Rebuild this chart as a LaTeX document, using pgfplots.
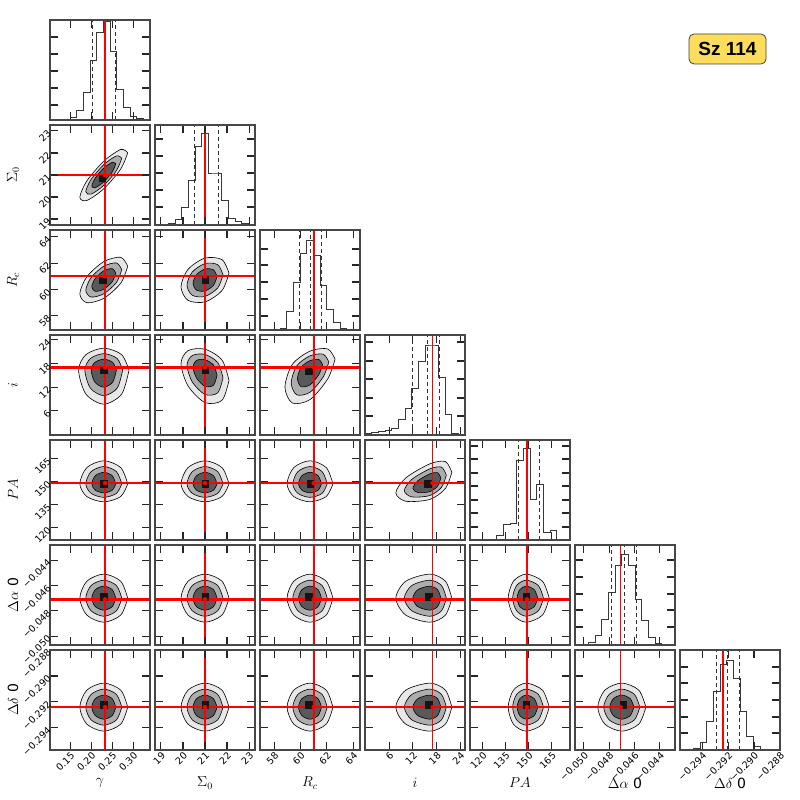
\documentclass[border=0pt]{standalone}
\usepackage{pgfplots}
\pgfplotsset{compat=1.18}
\usepackage{fontspec}
\setmainfont{DejaVu Sans}
\newfontfamily\boxfont{Liberation Sans}
\definecolor{boxyellow}{RGB}{253,221,92}
\definecolor{truthred}{RGB}{255,0,0}

\newcommand{\cont}[3]{%
\addplot[fill=black!9, draw=black, line width=0.6pt, smooth] coordinates {#1};
\addplot[fill=black!32, draw=black, line width=0.6pt, smooth] coordinates {#2};
\addplot[fill=black!65, draw=black, line width=0.6pt, smooth] coordinates {#3};}
\newcommand{\core}[2]{\addplot[only marks, mark=square*, mark size=3.3pt, mark options={draw=black!92, fill=black!92}] coordinates {(#1,#2)};}
% truth line as a thin filled band: x from #1 to #2, y from #3 to #4
\newcommand{\tv}[4]{\addplot[fill=truthred, draw=none] coordinates {(#1,#3)(#2,#3)(#2,#4)(#1,#4)};}
\newcommand{\tdot}[2]{\addplot[only marks, mark=*, mark size=2pt, mark options={draw=truthred, fill=truthred}] coordinates {(#1,#2)};}
\newcommand{\hq}[3]{%
\addplot[draw=black!80, line width=0.8pt, dash pattern=on 4pt off 3pt] coordinates {(#1,0) (#1,1)};
\addplot[draw=black!80, line width=0.8pt, dash pattern=on 4pt off 3pt] coordinates {(#2,0) (#2,1)};
\addplot[draw=black!80, line width=0.8pt, dash pattern=on 4pt off 3pt] coordinates {(#3,0) (#3,1)};}

\pgfplotsset{
 base/.style={scale only axis, width=100pt, height=100pt, anchor=south west,
  axis on top, scaled ticks=false, clip=true,
  axis line style={draw=black!72, line width=1.5pt},
  tick align=inside, major tick length=8pt,
  tick style={draw=black!85, line width=1.1pt},
  xticklabels={}, yticklabels={},
  ticklabel style={font=\fontsize{9.5}{11}\selectfont},
  xticklabel style={rotate=45, anchor=north east, inner sep=1pt},
  yticklabel style={rotate=45, anchor=east, inner sep=1pt},
  label style={font=\fontsize{14}{16}\selectfont},
  xlabel style={at={(axis description cs:0.5,-0.33)}, anchor=center},
  ylabel style={at={(axis description cs:-0.37,0.5)}, anchor=center}},
 xG/.style={xmin=0.102,xmax=0.340,xtick={0.15,0.20,0.25,0.30}},
 xS/.style={xmin=18.73,xmax=23.27,xtick={19,20,21,22,23}},
 yS/.style={ymin=18.73,ymax=23.27,ytick={19,20,21,22,23}},
 xR/.style={xmin=56.93,xmax=64.51,xtick={58,60,62,64}},
 yR/.style={ymin=56.93,ymax=64.51,ytick={58,60,62,64}},
 xI/.style={xmin=-0.1,xmax=25.2,xtick={6,12,18,24}},
 yI/.style={ymin=-0.1,ymax=25.2,ytick={6,12,18,24}},
 xP/.style={xmin=112,xmax=177,xtick={120,135,150,165}},
 yP/.style={ymin=112,ymax=177,ytick={120,135,150,165}},
 xA/.style={xmin=-0.0507,xmax=-0.0428,xtick={-0.050,-0.048,-0.046,-0.044}},
 yA/.style={ymin=-0.0507,ymax=-0.0428,ytick={-0.050,-0.048,-0.046,-0.044}},
 xD/.style={xmin=-0.2957,xmax=-0.2880,xtick={-0.294,-0.292,-0.290,-0.288}},
 yD/.style={ymin=-0.2957,ymax=-0.2880,ytick={-0.294,-0.292,-0.290,-0.288}},
 lxG/.style={xticklabels={0.15,0.20,0.25,0.30}, xlabel={$\gamma$}},
 lxS/.style={xticklabels={19,20,21,22,23}, xlabel={$\Sigma_0$}},
 lyS/.style={yticklabels={19,20,21,22,23}, ylabel={$\Sigma_0$}},
 lxR/.style={xticklabels={58,60,62,64}, xlabel={$R_c$}},
 lyR/.style={yticklabels={58,60,62,64}, ylabel={$R_c$}},
 lxI/.style={xticklabels={6,12,18,24}, xlabel={$i$}},
 lyI/.style={yticklabels={6,12,18,24}, ylabel={$i$}},
 lxP/.style={xticklabels={120,135,150,165}, xlabel={$PA$}},
 lyP/.style={yticklabels={120,135,150,165}, ylabel={$PA$}},
 lxA/.style={xticklabels={−0.050,−0.048,−0.046,−0.044}, xlabel={$\Delta\alpha$ 0}},
 lyA/.style={yticklabels={−0.050,−0.048,−0.046,−0.044}, ylabel={$\Delta\alpha$ 0}},
 lxD/.style={xticklabels={−0.294,−0.292,−0.290,−0.288}, xlabel={$\Delta\delta$ 0}},
 lyD/.style={yticklabels={−0.294,−0.292,−0.290,−0.288}, ylabel={$\Delta\delta$ 0}},
 hist/.style={ymin=0,ymax=1},
 hl/.style={const plot, draw=black!78, line width=0.9pt},
}

\begin{document}
\begin{tikzpicture}
\path[use as bounding box] (0pt,0pt) rectangle (800pt,800pt);

% ---------------- row 0 : gamma histogram
\begin{axis}[base, at={(50pt,680pt)}, xG, hist, ytick={0.15,0.32,0.49,0.66,0.83}]
\addplot[hl] coordinates {(0.102,0)(0.1179,0)(0.1337,0)(0.1496,0.024)(0.1655,0.10)(0.1813,0.276)(0.1972,0.596)(0.2131,0.88)(0.2289,0.99)(0.2448,0.69)(0.2607,0.31)(0.2765,0.125)(0.2924,0.04)(0.3083,0.017)(0.3241,0)(0.340,0)};
\hq{0.2035}{0.2313}{0.2567}
\tv{0.23086}{0.23514}{0}{1}
\end{axis}

% ---------------- row 1 : Sigma0
\begin{axis}[base, at={(50pt,575pt)}, xG, yS, lyS]
\cont{(0.287,22.01)(0.2703,22.157)(0.230,21.626)(0.1897,20.729)(0.173,19.99)(0.1897,19.843)(0.230,20.374)(0.2703,21.271)(0.287,22.01)}
{(0.2728,21.758)(0.2602,21.868)(0.230,21.47)(0.1998,20.797)(0.1872,20.243)(0.1998,20.132)(0.230,20.53)(0.2602,21.203)(0.2728,21.758)}
{(0.2585,21.505)(0.2502,21.579)(0.230,21.313)(0.2098,20.865)(0.2015,20.495)(0.2098,20.421)(0.230,20.687)(0.2502,21.136)(0.2585,21.505)}
\core{0.226}{20.85}
\tv{0.23086}{0.23514}{18.73}{23.27}
\tv{0.102}{0.340}{20.9591}{21.0409}
\tdot{0.233}{21.0}
\end{axis}
\begin{axis}[base, at={(155pt,575pt)}, xS, hist, ytick={0.18,0.35,0.52,0.69,0.86}]
\addplot[hl] coordinates {(18.73,0)(19.033,0)(19.335,0.02)(19.638,0.06)(19.941,0.18)(20.243,0.45)(20.546,0.79)(20.849,0.92)(21.151,0.52)(21.454,0.52)(21.757,0.25)(22.059,0.07)(22.362,0.04)(22.665,0.02)(22.967,0)(23.27,0)};
\hq{20.50}{21.03}{21.61}
\tv{20.9591}{21.0409}{0}{1}
\end{axis}

% ---------------- row 2 : Rc
\begin{axis}[base, at={(50pt,470pt)}, xG, yR, lyR]
\cont{(0.287,61.764)(0.2703,62.443)(0.230,62.112)(0.1897,60.965)(0.173,59.676)(0.1897,58.997)(0.230,59.328)(0.2703,60.475)(0.287,61.764)}
{(0.2728,61.503)(0.2602,62.012)(0.230,61.764)(0.1998,60.904)(0.1872,59.937)(0.1998,59.428)(0.230,59.676)(0.2602,60.536)(0.2728,61.503)}
{(0.2585,61.242)(0.2502,61.582)(0.230,61.416)(0.2098,60.843)(0.2015,60.198)(0.2098,59.859)(0.230,60.024)(0.2502,60.598)(0.2585,61.242)}
\core{0.228}{60.7}
\tv{0.23086}{0.23514}{56.93}{64.51}
\tv{0.102}{0.340}{60.9318}{61.0682}
\tdot{0.233}{61.0}
\end{axis}
\begin{axis}[base, at={(155pt,470pt)}, xS, yR]
\cont{(22.09,61.242)(21.771,62.263)(21.0,62.38)(20.229,61.524)(19.91,60.198)(20.229,59.177)(21.0,59.06)(21.771,59.916)(22.09,61.242)}
{(21.818,61.112)(21.578,61.877)(21.0,61.965)(20.422,61.323)(20.183,60.329)(20.422,59.563)(21.0,59.475)(21.578,60.117)(21.818,61.112)}
{(21.545,60.981)(21.386,61.492)(21.0,61.55)(20.615,61.122)(20.455,60.459)(20.615,59.949)(21.0,59.89)(21.386,60.318)(21.545,60.981)}
\core{21.0}{60.72}
\tv{20.9591}{21.0409}{56.93}{64.51}
\tv{18.73}{23.27}{60.9318}{61.0682}
\tdot{21.0}{61.0}
\end{axis}
\begin{axis}[base, at={(260pt,470pt)}, xR, hist, ytick={0.14,0.31,0.48,0.65,0.81}]
\addplot[hl] coordinates {(56.93,0)(57.435,0)(57.941,0.005)(58.446,0.02)(58.951,0.19)(59.457,0.48)(59.962,0.77)(60.467,0.90)(60.973,0.75)(61.478,0.45)(61.983,0.21)(62.489,0.08)(62.994,0.02)(63.499,0.005)(64.005,0)(64.51,0)};
\hq{59.94}{60.72}{61.60}
\tv{60.9318}{61.0682}{0}{1}
\end{axis}

% ---------------- row 3 : i
\begin{axis}[base, at={(50pt,365pt)}, xG, yI, lyI]
\cont{(0.290,16.3)(0.2724,20.24)(0.230,21.87)(0.1876,20.24)(0.170,16.3)(0.1876,10.22)(0.230,7.70)(0.2724,10.22)(0.290,16.3)}
{(0.275,16.3)(0.2618,19.255)(0.230,20.48)(0.1982,19.255)(0.185,16.3)(0.1982,11.74)(0.230,9.85)(0.2618,11.74)(0.275,16.3)}
{(0.260,16.3)(0.2512,18.27)(0.230,19.085)(0.2088,18.27)(0.200,16.3)(0.2088,13.26)(0.230,12.0)(0.2512,13.26)(0.260,16.3)}
\core{0.230}{16.3}
\tv{0.23086}{0.23514}{-0.1}{25.2}
\tv{0.102}{0.340}{16.696}{17.304}
\tdot{0.233}{17.0}
\end{axis}
\begin{axis}[base, at={(155pt,365pt)}, xS, yI]
\cont{(22.09,13.72)(21.771,18.873)(21.0,21.614)(20.229,21.24)(19.91,17.971)(20.229,12.327)(21.0,8.096)(21.771,8.672)(22.09,13.72)}
{(21.818,14.365)(21.578,18.23)(21.0,20.286)(20.422,20.005)(20.183,17.553)(20.422,13.32)(21.0,10.147)(21.578,10.579)(21.818,14.365)}
{(21.545,15.01)(21.386,17.587)(21.0,18.957)(20.615,18.77)(20.455,17.136)(20.615,14.314)(21.0,12.198)(21.386,12.486)(21.545,15.01)}
\core{21.0}{16.3}
\tv{20.9591}{21.0409}{-0.1}{25.2}
\tv{18.73}{23.27}{16.696}{17.304}
\tdot{21.0}{17.0}
\end{axis}
\begin{axis}[base, at={(260pt,365pt)}, xR, yI]
\cont{(62.62,19.085)(62.063,21.681)(60.72,21.124)(59.377,17.743)(58.82,12.0)(59.377,7.992)(60.72,8.852)(62.063,14.073)(62.62,19.085)}
{(62.145,18.389)(61.727,20.336)(60.72,19.918)(59.713,17.382)(59.295,13.075)(59.713,10.069)(60.72,10.714)(61.727,14.63)(62.145,18.389)}
{(61.67,17.693)(61.392,18.991)(60.72,18.712)(60.049,17.022)(59.77,14.15)(60.049,12.146)(60.72,12.576)(61.392,15.187)(61.67,17.693)}
\core{60.6}{16.0}
\tv{60.9318}{61.0682}{-0.1}{25.2}
\tv{56.93}{64.51}{16.696}{17.304}
\tdot{61.0}{17.0}
\end{axis}
\begin{axis}[base, at={(365pt,365pt)}, xI, hist, ytick={0.19,0.37,0.56,0.74,0.93}]
\addplot[hl] coordinates {(-0.1,0.02)(1.587,0.025)(3.273,0.035)(4.96,0.045)(6.647,0.07)(8.333,0.16)(10.02,0.27)(11.707,0.47)(13.393,0.74)(15.08,0.9)(16.767,0.9)(18.453,0.58)(20.14,0.21)(21.827,0.02)(23.513,0)(25.2,0)};
\hq{11.87}{15.67}{18.71}
\tv{16.772}{17.228}{0}{1}
\end{axis}

% ---------------- row 4 : PA
\begin{axis}[base, at={(50pt,260pt)}, xG, yP, lyP]
\cont{(0.287,148.5)(0.2703,159.1)(0.230,163.5)(0.1897,159.1)(0.173,148.5)(0.1897,140.23)(0.230,136.8)(0.2703,140.23)(0.287,148.5)}
{(0.2728,148.5)(0.2602,156.45)(0.230,159.75)(0.1998,156.45)(0.1872,148.5)(0.1998,142.3)(0.230,139.725)(0.2602,142.3)(0.2728,148.5)}
{(0.2585,148.5)(0.2502,153.8)(0.230,156.0)(0.2098,153.8)(0.2015,148.5)(0.2098,144.365)(0.230,142.65)(0.2502,144.365)(0.2585,148.5)}
\core{0.230}{148.5}
\tv{0.23086}{0.23514}{112}{177}
\tv{0.102}{0.340}{148.415}{149.585}
\tdot{0.233}{149.0}
\end{axis}
\begin{axis}[base, at={(155pt,260pt)}, xS, yP]
\cont{(22.09,148.5)(21.771,159.1)(21.0,163.5)(20.229,159.1)(19.91,148.5)(20.229,140.23)(21.0,136.8)(21.771,140.23)(22.09,148.5)}
{(21.818,148.5)(21.578,156.45)(21.0,159.75)(20.422,156.45)(20.183,148.5)(20.422,142.3)(21.0,139.725)(21.578,142.3)(21.818,148.5)}
{(21.545,148.5)(21.386,153.8)(21.0,156.0)(20.615,153.8)(20.455,148.5)(20.615,144.365)(21.0,142.65)(21.386,144.365)(21.545,148.5)}
\core{21.0}{148.5}
\tv{20.9591}{21.0409}{112}{177}
\tv{18.73}{23.27}{148.415}{149.585}
\tdot{21.0}{149.0}
\end{axis}
\begin{axis}[base, at={(260pt,260pt)}, xR, yP]
\cont{(62.46,148.5)(61.95,159.1)(60.72,163.5)(59.49,159.1)(58.98,148.5)(59.49,140.23)(60.72,136.8)(61.95,140.23)(62.46,148.5)}
{(62.025,148.5)(61.64,156.45)(60.72,159.75)(59.8,156.45)(59.415,148.5)(59.8,142.3)(60.72,139.725)(61.64,142.3)(62.025,148.5)}
{(61.59,148.5)(61.335,153.8)(60.72,156.0)(60.105,153.8)(59.85,148.5)(60.105,144.365)(60.72,142.65)(61.335,144.365)(61.59,148.5)}
\core{60.72}{148.5}
\tv{60.9318}{61.0682}{112}{177}
\tv{56.93}{64.51}{148.415}{149.585}
\tdot{61.0}{149.0}
\end{axis}
\begin{axis}[base, at={(365pt,260pt)}, xI, yP]
\cont{(21.87,156.0)(20.24,162.99)(16.3,161.49)(10.22,152.385)(7.7,142.65)(10.22,137.2)(16.3,138.37)(20.24,145.47)(21.87,156.0)}
{(20.478,154.125)(19.255,159.368)(16.3,158.243)(11.74,151.414)(9.85,144.112)(11.74,140.025)(16.3,140.902)(19.255,146.227)(20.478,154.125)}
{(19.085,152.25)(18.27,155.745)(16.3,154.995)(13.26,150.443)(12.0,145.575)(13.26,142.85)(16.3,143.435)(18.27,146.985)(19.085,152.25)}
\core{15.8}{148.5}
\tv{16.772}{17.228}{112}{177}
\tv{-0.1}{25.2}{148.415}{149.585}
\tdot{17.0}{149.0}
\end{axis}
\begin{axis}[base, at={(470pt,260pt)}, xP, hist, ytick={0.13,0.27,0.40,0.54,0.67,0.81,0.94}]
\addplot[hl] coordinates {(112,0)(116.33,0)(120.67,0.01)(125,0.01)(129.33,0.045)(133.67,0.155)(138,0.17)(142.33,0.80)(146.67,0.92)(151,0.41)(155.33,0.56)(159.67,0.08)(164,0.095)(168.33,0.01)(172.67,0)(177,0)};
\hq{143.4}{148.8}{157.1}
\tv{148.415}{149.585}{0}{1}
\end{axis}

% ---------------- row 5 : Delta alpha
\begin{axis}[base, at={(50pt,155pt)}, xG, yA, lyA]
\cont{(0.287,-0.0470)(0.2703,-0.04566)(0.230,-0.0451)(0.1897,-0.04566)(0.173,-0.0470)(0.1897,-0.04834)(0.230,-0.0489)(0.2703,-0.04834)(0.287,-0.0470)}
{(0.2728,-0.0470)(0.2602,-0.0460)(0.230,-0.04558)(0.1998,-0.0460)(0.1872,-0.0470)(0.1998,-0.0480)(0.230,-0.04843)(0.2602,-0.0480)(0.2728,-0.0470)}
{(0.2585,-0.0470)(0.2502,-0.04633)(0.230,-0.04605)(0.2098,-0.04633)(0.2015,-0.0470)(0.2098,-0.04767)(0.230,-0.04795)(0.2502,-0.04767)(0.2585,-0.0470)}
\core{0.230}{-0.0469}
\tv{0.23086}{0.23514}{-0.0507}{-0.0428}
\tv{0.102}{0.340}{-0.047195}{-0.047005}
\tdot{0.233}{-0.0471}
\end{axis}
\begin{axis}[base, at={(155pt,155pt)}, xS, yA]
\cont{(22.09,-0.0470)(21.771,-0.04566)(21.0,-0.0451)(20.229,-0.04566)(19.91,-0.0470)(20.229,-0.04834)(21.0,-0.0489)(21.771,-0.04834)(22.09,-0.0470)}
{(21.818,-0.0470)(21.578,-0.0460)(21.0,-0.04558)(20.422,-0.0460)(20.183,-0.0470)(20.422,-0.0480)(21.0,-0.04843)(21.578,-0.0480)(21.818,-0.0470)}
{(21.545,-0.0470)(21.386,-0.04633)(21.0,-0.04605)(20.615,-0.04633)(20.455,-0.0470)(20.615,-0.04767)(21.0,-0.04795)(21.386,-0.04767)(21.545,-0.0470)}
\core{21.0}{-0.0469}
\tv{20.9591}{21.0409}{-0.0507}{-0.0428}
\tv{18.73}{23.27}{-0.047195}{-0.047005}
\tdot{21.0}{-0.0471}
\end{axis}
\begin{axis}[base, at={(260pt,155pt)}, xR, yA]
\cont{(62.46,-0.0470)(61.95,-0.04566)(60.72,-0.0451)(59.49,-0.04566)(58.98,-0.0470)(59.49,-0.04834)(60.72,-0.0489)(61.95,-0.04834)(62.46,-0.0470)}
{(62.025,-0.0470)(61.64,-0.0460)(60.72,-0.04558)(59.8,-0.0460)(59.415,-0.0470)(59.8,-0.0480)(60.72,-0.04843)(61.64,-0.0480)(62.025,-0.0470)}
{(61.59,-0.0470)(61.335,-0.04633)(60.72,-0.04605)(60.105,-0.04633)(59.85,-0.0470)(60.105,-0.04767)(60.72,-0.04795)(61.335,-0.04767)(61.59,-0.0470)}
\core{60.6}{-0.0469}
\tv{60.9318}{61.0682}{-0.0507}{-0.0428}
\tv{56.93}{64.51}{-0.047195}{-0.047005}
\tdot{61.0}{-0.0471}
\end{axis}
\begin{axis}[base, at={(365pt,155pt)}, xI, yA]
\cont{(21.87,-0.0470)(20.24,-0.04566)(16.3,-0.0451)(10.22,-0.04566)(7.7,-0.0470)(10.22,-0.04834)(16.3,-0.0489)(20.24,-0.04834)(21.87,-0.0470)}
{(20.478,-0.0470)(19.255,-0.0460)(16.3,-0.04558)(11.74,-0.0460)(9.85,-0.0470)(11.74,-0.0480)(16.3,-0.04843)(19.255,-0.0480)(20.478,-0.0470)}
{(19.085,-0.0470)(18.27,-0.04633)(16.3,-0.04605)(13.26,-0.04633)(12.0,-0.0470)(13.26,-0.04767)(16.3,-0.04795)(18.27,-0.04767)(19.085,-0.0470)}
\core{16.0}{-0.0469}
\tv{16.772}{17.228}{-0.0507}{-0.0428}
\tv{-0.1}{25.2}{-0.047195}{-0.047005}
\tdot{17.0}{-0.0471}
\end{axis}
\begin{axis}[base, at={(470pt,155pt)}, xP, yA]
\cont{(163.5,-0.0470)(159.1,-0.04566)(148.5,-0.0451)(140.23,-0.04566)(136.8,-0.0470)(140.23,-0.04834)(148.5,-0.0489)(159.1,-0.04834)(163.5,-0.0470)}
{(159.75,-0.0470)(156.45,-0.0460)(148.5,-0.04558)(142.3,-0.0460)(139.725,-0.0470)(142.3,-0.0480)(148.5,-0.04843)(156.45,-0.0480)(159.75,-0.0470)}
{(156.0,-0.0470)(153.8,-0.04633)(148.5,-0.04605)(144.365,-0.04633)(142.65,-0.0470)(144.365,-0.04767)(148.5,-0.04795)(153.8,-0.04767)(156.0,-0.0470)}
\core{148.5}{-0.0469}
\tv{148.415}{149.585}{-0.0507}{-0.0428}
\tv{112}{177}{-0.047195}{-0.047005}
\tdot{149.0}{-0.0471}
\end{axis}
\begin{axis}[base, at={(575pt,155pt)}, xA, hist, ytick={0.18,0.35,0.51,0.68,0.85}]
\addplot[hl] coordinates {(-0.0507,0.005)(-0.05017,0.01)(-0.04965,0.03)(-0.04912,0.10)(-0.04859,0.26)(-0.04807,0.53)(-0.04754,0.80)(-0.04701,0.91)(-0.04649,0.80)(-0.04596,0.46)(-0.04543,0.25)(-0.04491,0.08)(-0.04438,0.02)(-0.04385,0.005)(-0.04333,0)(-0.0428,0)};
\hq{-0.0478}{-0.04683}{-0.04588}
\tv{-0.047171}{-0.047029}{0}{1}
\end{axis}

% ---------------- row 6 : Delta delta
\begin{axis}[base, at={(50pt,50pt)}, xG, yD, lyD, lxG]
\cont{(0.287,-0.2924)(0.2703,-0.29109)(0.230,-0.29055)(0.1897,-0.29109)(0.173,-0.2924)(0.1897,-0.29371)(0.230,-0.29425)(0.2703,-0.29371)(0.287,-0.2924)}
{(0.2728,-0.2924)(0.2602,-0.29142)(0.230,-0.29101)(0.1998,-0.29142)(0.1872,-0.2924)(0.1998,-0.29338)(0.230,-0.29379)(0.2602,-0.29338)(0.2728,-0.2924)}
{(0.2585,-0.2924)(0.2502,-0.29175)(0.230,-0.29147)(0.2098,-0.29175)(0.2015,-0.2924)(0.2098,-0.29305)(0.230,-0.29333)(0.2502,-0.29305)(0.2585,-0.2924)}
\core{0.230}{-0.2922}
\tv{0.23086}{0.23514}{-0.2957}{-0.2880}
\tv{0.102}{0.340}{-0.292469}{-0.292331}
\tdot{0.233}{-0.2924}
\end{axis}
\begin{axis}[base, at={(155pt,50pt)}, xS, yD, lxS]
\cont{(22.09,-0.2924)(21.771,-0.29109)(21.0,-0.29055)(20.229,-0.29109)(19.91,-0.2924)(20.229,-0.29371)(21.0,-0.29425)(21.771,-0.29371)(22.09,-0.2924)}
{(21.818,-0.2924)(21.578,-0.29142)(21.0,-0.29101)(20.422,-0.29142)(20.183,-0.2924)(20.422,-0.29338)(21.0,-0.29379)(21.578,-0.29338)(21.818,-0.2924)}
{(21.545,-0.2924)(21.386,-0.29175)(21.0,-0.29147)(20.615,-0.29175)(20.455,-0.2924)(20.615,-0.29305)(21.0,-0.29333)(21.386,-0.29305)(21.545,-0.2924)}
\core{21.0}{-0.2922}
\tv{20.9591}{21.0409}{-0.2957}{-0.2880}
\tv{18.73}{23.27}{-0.292469}{-0.292331}
\tdot{21.0}{-0.2924}
\end{axis}
\begin{axis}[base, at={(260pt,50pt)}, xR, yD, lxR]
\cont{(62.46,-0.2924)(61.95,-0.29109)(60.72,-0.29055)(59.49,-0.29109)(58.98,-0.2924)(59.49,-0.29371)(60.72,-0.29425)(61.95,-0.29371)(62.46,-0.2924)}
{(62.025,-0.2924)(61.64,-0.29142)(60.72,-0.29101)(59.8,-0.29142)(59.415,-0.2924)(59.8,-0.29338)(60.72,-0.29379)(61.64,-0.29338)(62.025,-0.2924)}
{(61.59,-0.2924)(61.335,-0.29175)(60.72,-0.29147)(60.105,-0.29175)(59.85,-0.2924)(60.105,-0.29305)(60.72,-0.29333)(61.335,-0.29305)(61.59,-0.2924)}
\core{60.6}{-0.2922}
\tv{60.9318}{61.0682}{-0.2957}{-0.2880}
\tv{56.93}{64.51}{-0.292469}{-0.292331}
\tdot{61.0}{-0.2924}
\end{axis}
\begin{axis}[base, at={(365pt,50pt)}, xI, yD, lxI]
\cont{(21.87,-0.2924)(20.24,-0.29109)(16.3,-0.29055)(10.22,-0.29109)(7.7,-0.2924)(10.22,-0.29371)(16.3,-0.29425)(20.24,-0.29371)(21.87,-0.2924)}
{(20.478,-0.2924)(19.255,-0.29142)(16.3,-0.29101)(11.74,-0.29142)(9.85,-0.2924)(11.74,-0.29338)(16.3,-0.29379)(19.255,-0.29338)(20.478,-0.2924)}
{(19.085,-0.2924)(18.27,-0.29175)(16.3,-0.29147)(13.26,-0.29175)(12.0,-0.2924)(13.26,-0.29305)(16.3,-0.29333)(18.27,-0.29305)(19.085,-0.2924)}
\core{16.0}{-0.2922}
\tv{16.772}{17.228}{-0.2957}{-0.2880}
\tv{-0.1}{25.2}{-0.292469}{-0.292331}
\tdot{17.0}{-0.2924}
\end{axis}
\begin{axis}[base, at={(470pt,50pt)}, xP, yD, lxP]
\cont{(163.5,-0.2924)(159.1,-0.29109)(148.5,-0.29055)(140.23,-0.29109)(136.8,-0.2924)(140.23,-0.29371)(148.5,-0.29425)(159.1,-0.29371)(163.5,-0.2924)}
{(159.75,-0.2924)(156.45,-0.29142)(148.5,-0.29101)(142.3,-0.29142)(139.725,-0.2924)(142.3,-0.29338)(148.5,-0.29379)(156.45,-0.29338)(159.75,-0.2924)}
{(156.0,-0.2924)(153.8,-0.29175)(148.5,-0.29147)(144.365,-0.29175)(142.65,-0.2924)(144.365,-0.29305)(148.5,-0.29333)(153.8,-0.29305)(156.0,-0.2924)}
\core{148.5}{-0.2922}
\tv{148.415}{149.585}{-0.2957}{-0.2880}
\tv{112}{177}{-0.292469}{-0.292331}
\tdot{149.0}{-0.2924}
\end{axis}
\begin{axis}[base, at={(575pt,50pt)}, xA, yD, lxA]
\cont{(-0.0451,-0.2924)(-0.04566,-0.29109)(-0.0470,-0.29055)(-0.04834,-0.29109)(-0.0489,-0.2924)(-0.04834,-0.29371)(-0.0470,-0.29425)(-0.04566,-0.29371)(-0.0451,-0.2924)}
{(-0.04558,-0.2924)(-0.0460,-0.29142)(-0.0470,-0.29101)(-0.0480,-0.29142)(-0.04843,-0.2924)(-0.0480,-0.29338)(-0.0470,-0.29379)(-0.0460,-0.29338)(-0.04558,-0.2924)}
{(-0.04605,-0.2924)(-0.04633,-0.29175)(-0.0470,-0.29147)(-0.04767,-0.29175)(-0.04795,-0.2924)(-0.04767,-0.29305)(-0.0470,-0.29333)(-0.04633,-0.29305)(-0.04605,-0.2924)}
\core{-0.0469}{-0.2922}
\tv{-0.047171}{-0.047029}{-0.2957}{-0.2880}
\tv{-0.0507}{-0.0428}{-0.292469}{-0.292331}
\tdot{-0.0471}{-0.2924}
\end{axis}
\begin{axis}[base, at={(680pt,50pt)}, xD, hist, lxD, ytick={0.17,0.33,0.5,0.67,0.83}]
\addplot[hl] coordinates {(-0.2957,0)(-0.29519,0.005)(-0.29467,0.02)(-0.29416,0.08)(-0.29365,0.29)(-0.29313,0.59)(-0.29262,0.86)(-0.29211,0.90)(-0.29159,0.72)(-0.29108,0.39)(-0.29057,0.14)(-0.29005,0.033)(-0.28954,0.01)(-0.28903,0.003)(-0.28851,0)(-0.2880,0)};
\hq{-0.29293}{-0.29206}{-0.29113}
\tv{-0.292469}{-0.292331}{0}{1}
\end{axis}

\node[draw=black!75, line width=0.8pt, fill=boxyellow, rounded corners=5pt, minimum width=77pt, minimum height=30pt, inner sep=2pt, font=\boxfont\bfseries\fontsize{19}{21}\selectfont] at (727.5pt,751pt) {Sz 114};
\end{tikzpicture}
\end{document}
